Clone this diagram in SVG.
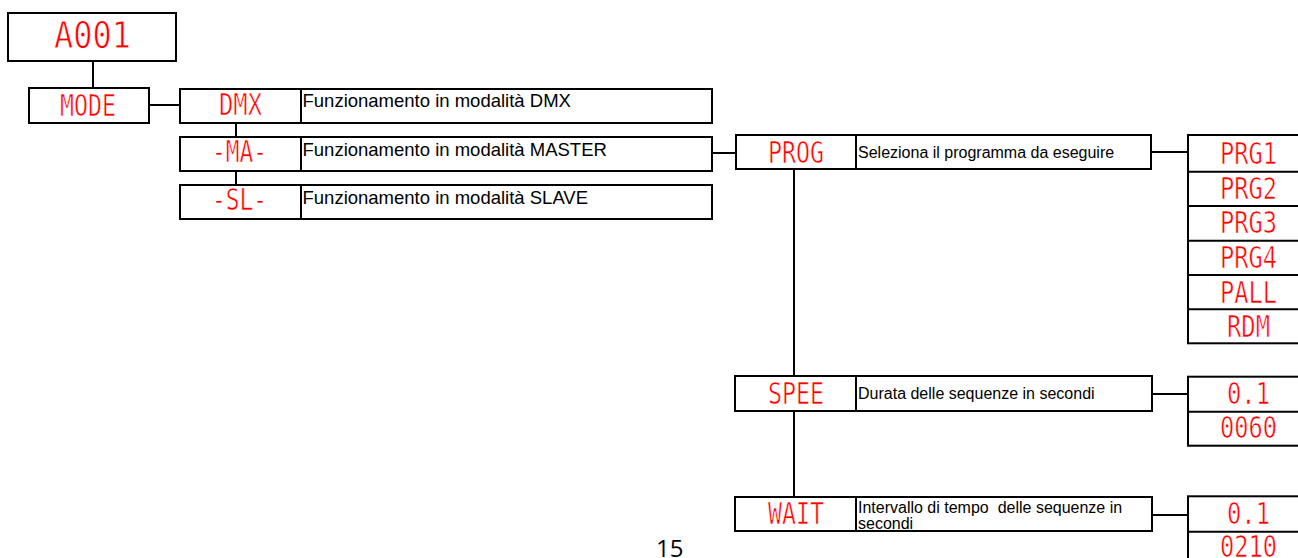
<svg xmlns="http://www.w3.org/2000/svg" width="1298" height="558" viewBox="0 0 1298 558">
<style>
.box{fill:#fff;stroke:#000;stroke-width:2}
.ln{fill:none;stroke:#000;stroke-width:2}
.seg{font-family:"DejaVu Sans Mono",monospace;font-size:29.5px;fill:#ff0000;stroke:#fff;stroke-width:0.6px}
.big{font-size:37px;stroke-width:0.8px}
.d1{font-family:"Liberation Sans",Arial,sans-serif;font-size:18.5px;fill:#000}
.d2{font-family:"Liberation Sans",Arial,sans-serif;font-size:16px;fill:#000}
.pg{font-family:"Open Sans","Noto Sans",sans-serif;font-size:24px;fill:#000}
</style>
<rect width="1298" height="558" fill="#fff"/>
<g id="connectors">
<path class="ln" d="M93 61V88"/>
<path class="ln" d="M149 105H180"/>
<path class="ln" d="M236 123V137"/>
<path class="ln" d="M236 171V185"/>
<path class="ln" d="M712 153H736"/>
<path class="ln" d="M1151 152H1188"/>
<path class="ln" d="M794 169V376"/>
<path class="ln" d="M794 411V497"/>
<path class="ln" d="M1152 394H1188"/>
<path class="ln" d="M1152 515H1188"/>
</g>
<g id="n-a001">
<rect class="box" x="8" y="13" width="168" height="48"/>
<text class="seg big" x="54" y="48" textLength="77" lengthAdjust="spacingAndGlyphs">A001</text>
</g>
<g id="n-mode">
<rect class="box" x="29" y="88" width="120" height="35"/>
<text class="seg" x="60" y="115.7" textLength="56" lengthAdjust="spacingAndGlyphs">MODE</text>
</g>
<g id="n-dmx">
<rect class="box" x="180" y="89" width="532" height="34"/>
<path class="ln" d="M301 89V123"/>
<text class="seg" x="219" y="115" textLength="43" lengthAdjust="spacingAndGlyphs">DMX</text>
<text class="d1" x="302.5" y="107">Funzionamento in modalità DMX</text>
</g>
<g id="n-ma">
<rect class="box" x="180" y="137" width="532" height="34"/>
<path class="ln" d="M301 137V171"/>
<text class="seg" x="212" y="161.7" textLength="55" lengthAdjust="spacingAndGlyphs">-MA-</text>
<text class="d1" x="302.5" y="156">Funzionamento in modalità MASTER</text>
</g>
<g id="n-sl">
<rect class="box" x="180" y="185" width="532" height="34"/>
<path class="ln" d="M301 185V219"/>
<text class="seg" x="212" y="210" textLength="55" lengthAdjust="spacingAndGlyphs">-SL-</text>
<text class="d1" x="302.5" y="204">Funzionamento in modalità SLAVE</text>
</g>
<g id="n-prog">
<rect class="box" x="736" y="135" width="415" height="34"/>
<path class="ln" d="M856 135V169"/>
<text class="seg" x="768" y="163.3" textLength="56" lengthAdjust="spacingAndGlyphs">PROG</text>
<text class="d2" x="858" y="158.3">Seleziona il programma da eseguire</text>
</g>
<g id="n-prog-values">
<rect class="box" x="1188" y="135" width="122" height="208.3"/>
<path class="ln" d="M1188 171.7H1310M1188 206H1310M1188 240.7H1310M1188 275H1310M1188 309.3H1310"/>
<text class="seg" x="1220" y="164" textLength="57" lengthAdjust="spacingAndGlyphs">PRG1</text>
<text class="seg" x="1220" y="199" textLength="57" lengthAdjust="spacingAndGlyphs">PRG2</text>
<text class="seg" x="1220" y="233" textLength="57" lengthAdjust="spacingAndGlyphs">PRG3</text>
<text class="seg" x="1220" y="267.7" textLength="57" lengthAdjust="spacingAndGlyphs">PRG4</text>
<text class="seg" x="1220" y="302.7" textLength="57" lengthAdjust="spacingAndGlyphs">PALL</text>
<text class="seg" x="1227" y="336.7" textLength="43" lengthAdjust="spacingAndGlyphs">RDM</text>
</g>
<g id="n-spee">
<rect class="box" x="735" y="376" width="417" height="35"/>
<path class="ln" d="M856 376V411"/>
<text class="seg" x="768" y="404.3" textLength="56" lengthAdjust="spacingAndGlyphs">SPEE</text>
<text class="d2" x="858" y="399.3">Durata delle sequenze in secondi</text>
</g>
<g id="n-spee-values">
<rect class="box" x="1188" y="376.7" width="122" height="69"/>
<path class="ln" d="M1188 411.7H1310"/>
<text class="seg" x="1227" y="404.3" textLength="43" lengthAdjust="spacingAndGlyphs">0.1</text>
<text class="seg" x="1220" y="438.3" textLength="57" lengthAdjust="spacingAndGlyphs">0060</text>
</g>
<g id="n-wait">
<rect class="box" x="735" y="497" width="417" height="34"/>
<path class="ln" d="M856 497V531"/>
<text class="seg" x="768" y="524" textLength="56" lengthAdjust="spacingAndGlyphs">WAIT</text>
<text class="d2" x="858" y="513.3" xml:space="preserve">Intervallo di tempo  delle sequenze in</text>
<text class="d2" x="858" y="529.3">secondi</text>
</g>
<g id="n-wait-values">
<rect class="box" x="1188" y="496.3" width="122" height="80"/>
<path class="ln" d="M1188 531.7H1310"/>
<text class="seg" x="1227" y="524.3" textLength="43" lengthAdjust="spacingAndGlyphs">0.1</text>
<text class="seg" x="1220" y="557" textLength="57" lengthAdjust="spacingAndGlyphs">0210</text>
</g>
<text class="pg" x="656" y="557">15</text>
</svg>
